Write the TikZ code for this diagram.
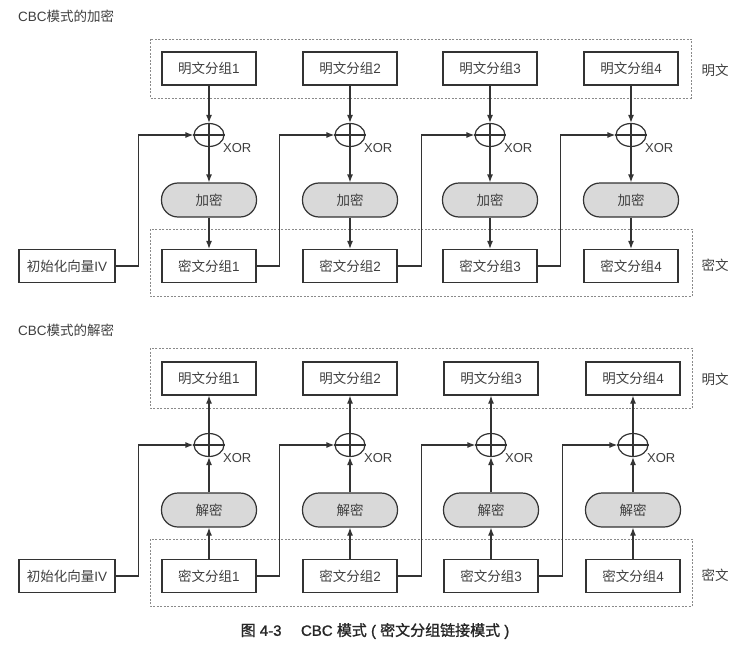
\documentclass[tikz,border=0pt]{standalone}
\usepackage{fontspec}
\setmainfont{Liberation Sans}
\newfontfamily\cjk{Noto Sans CJK SC}
\newfontfamily\capcjk[FakeBold=1.2]{Noto Sans CJK SC}
\newfontfamily\caplat[FakeBold=1.2]{Liberation Sans}
\usetikzlibrary{arrows.meta,shapes.geometric}
\definecolor{ink}{HTML}{333333}
\definecolor{txt}{HTML}{3E3E3E}
\definecolor{dsh}{HTML}{8A8A8A}
\definecolor{opfill}{HTML}{D9D9D9}
\begin{document}
\begin{tikzpicture}[x=1pt,y=-1pt,
  every node/.style={text=txt},
  fnt/.style={font=\fontsize{13.5}{15}\selectfont},
  blk/.style={fnt, draw=ink, line width=1.2pt, minimum width=94pt, minimum height=33pt, inner sep=0pt},
  ivbox/.style={blk, minimum width=96pt},
  opbox/.style={fnt, draw=ink, line width=1.2pt, fill=opfill, rounded corners=16.5pt, minimum width=95pt, minimum height=34pt, inner sep=0pt},
  xo/.style={ellipse, draw=ink, line width=1.2pt, minimum width=30pt, minimum height=23pt, inner sep=0pt},
  grp/.style={draw=dsh, line width=0.6pt, dash pattern=on 2pt off 1.5pt},
  arr/.style={draw=ink, line width=1.2pt, -{Latex[length=8pt,width=6pt]}},
  ln/.style={draw=ink, line width=1.2pt},
  xl/.style={font=\fontsize{13}{14}\selectfont, anchor=west, inner sep=0pt}
]
\useasboundingbox (0,0) rectangle (751,658);

% ---------------- Encryption ----------------
\node[fnt, anchor=west, inner sep=0pt] (t1) at (18,16) {CBC{\cjk 模式的加密}};
\draw[grp] (150,39) rectangle (691,98);
\draw[grp] (150,229) rectangle (692,296);
\node[fnt] (lp1) at (715,70) {\cjk 明文};
\node[fnt] (lc1) at (715,265) {\cjk 密文};
\node[ivbox] (iv1) at (67,266) {{\cjk 初始化向量}IV};

\foreach \i/\x in {1/209,2/350,3/490,4/631}{
  \node[blk] (p\i) at (\x,68.5) {{\cjk 明文分组}\i};
  \node[xo] (x\i) at (\x,135) {};
  \draw[ln] (x\i.north) -- (x\i.south);
  \draw[ln] (x\i.west) -- (x\i.east);
  \node[xl] (xt\i) at (\x+14,148) {XOR};
  \node[opbox] (e\i) at (\x,200) {\cjk 加密};
  \node[blk] (c\i) at (\x,266) {{\cjk 密文分组}\i};
  \draw[arr] (p\i.south) -- (x\i.north);
  \draw[arr] (x\i.south) -- (e\i.north);
  \draw[arr] (e\i.south) -- (c\i.north);
}
\draw[arr] (iv1.east) -- ++(23,0) |- (x1.west);
\draw[arr] (c1.east) -- ++(23,0) |- (x2.west);
\draw[arr] (c2.east) -- ++(24,0) |- (x3.west);
\draw[arr] (c3.east) -- ++(23,0) |- (x4.west);

% ---------------- Decryption ----------------
\node[fnt, anchor=west, inner sep=0pt] (t2) at (18,330) {CBC{\cjk 模式的解密}};
\draw[grp] (150,348) rectangle (692,408);
\draw[grp] (150,539) rectangle (692,606);
\node[fnt] (lp2) at (715,379) {\cjk 明文};
\node[fnt] (lc2) at (715,575) {\cjk 密文};
\node[ivbox] (iv2) at (67,576) {{\cjk 初始化向量}IV};

\foreach \i/\x in {1/209,2/350,3/491,4/633}{
  \node[blk] (q\i) at (\x,378.5) {{\cjk 明文分组}\i};
  \node[xo] (y\i) at (\x,445) {};
  \draw[ln] (y\i.north) -- (y\i.south);
  \draw[ln] (y\i.west) -- (y\i.east);
  \node[xl] (yt\i) at (\x+14,458) {XOR};
  \node[opbox] (d\i) at (\x,510) {\cjk 解密};
  \node[blk] (k\i) at (\x,576) {{\cjk 密文分组}\i};
  \draw[arr] (k\i.north) -- (d\i.south);
  \draw[arr] (d\i.north) -- (y\i.south);
  \draw[arr] (y\i.north) -- (q\i.south);
}
\draw[arr] (iv2.east) -- ++(23,0) |- (y1.west);
\draw[arr] (k1.east) -- ++(23,0) |- (y2.west);
\draw[arr] (k2.east) -- ++(24,0) |- (y3.west);
\draw[arr] (k3.east) -- ++(24,0) |- (y4.west);

\node[font=\fontsize{15}{17}\selectfont, text=black!85] (cap) at (375,631) {{\capcjk 图} {\caplat 4-3}\hspace{1.3em}{\caplat CBC} {\capcjk 模式} {\caplat (} {\capcjk 密文分组链接模式} {\caplat )}};
\end{tikzpicture}
\end{document}
